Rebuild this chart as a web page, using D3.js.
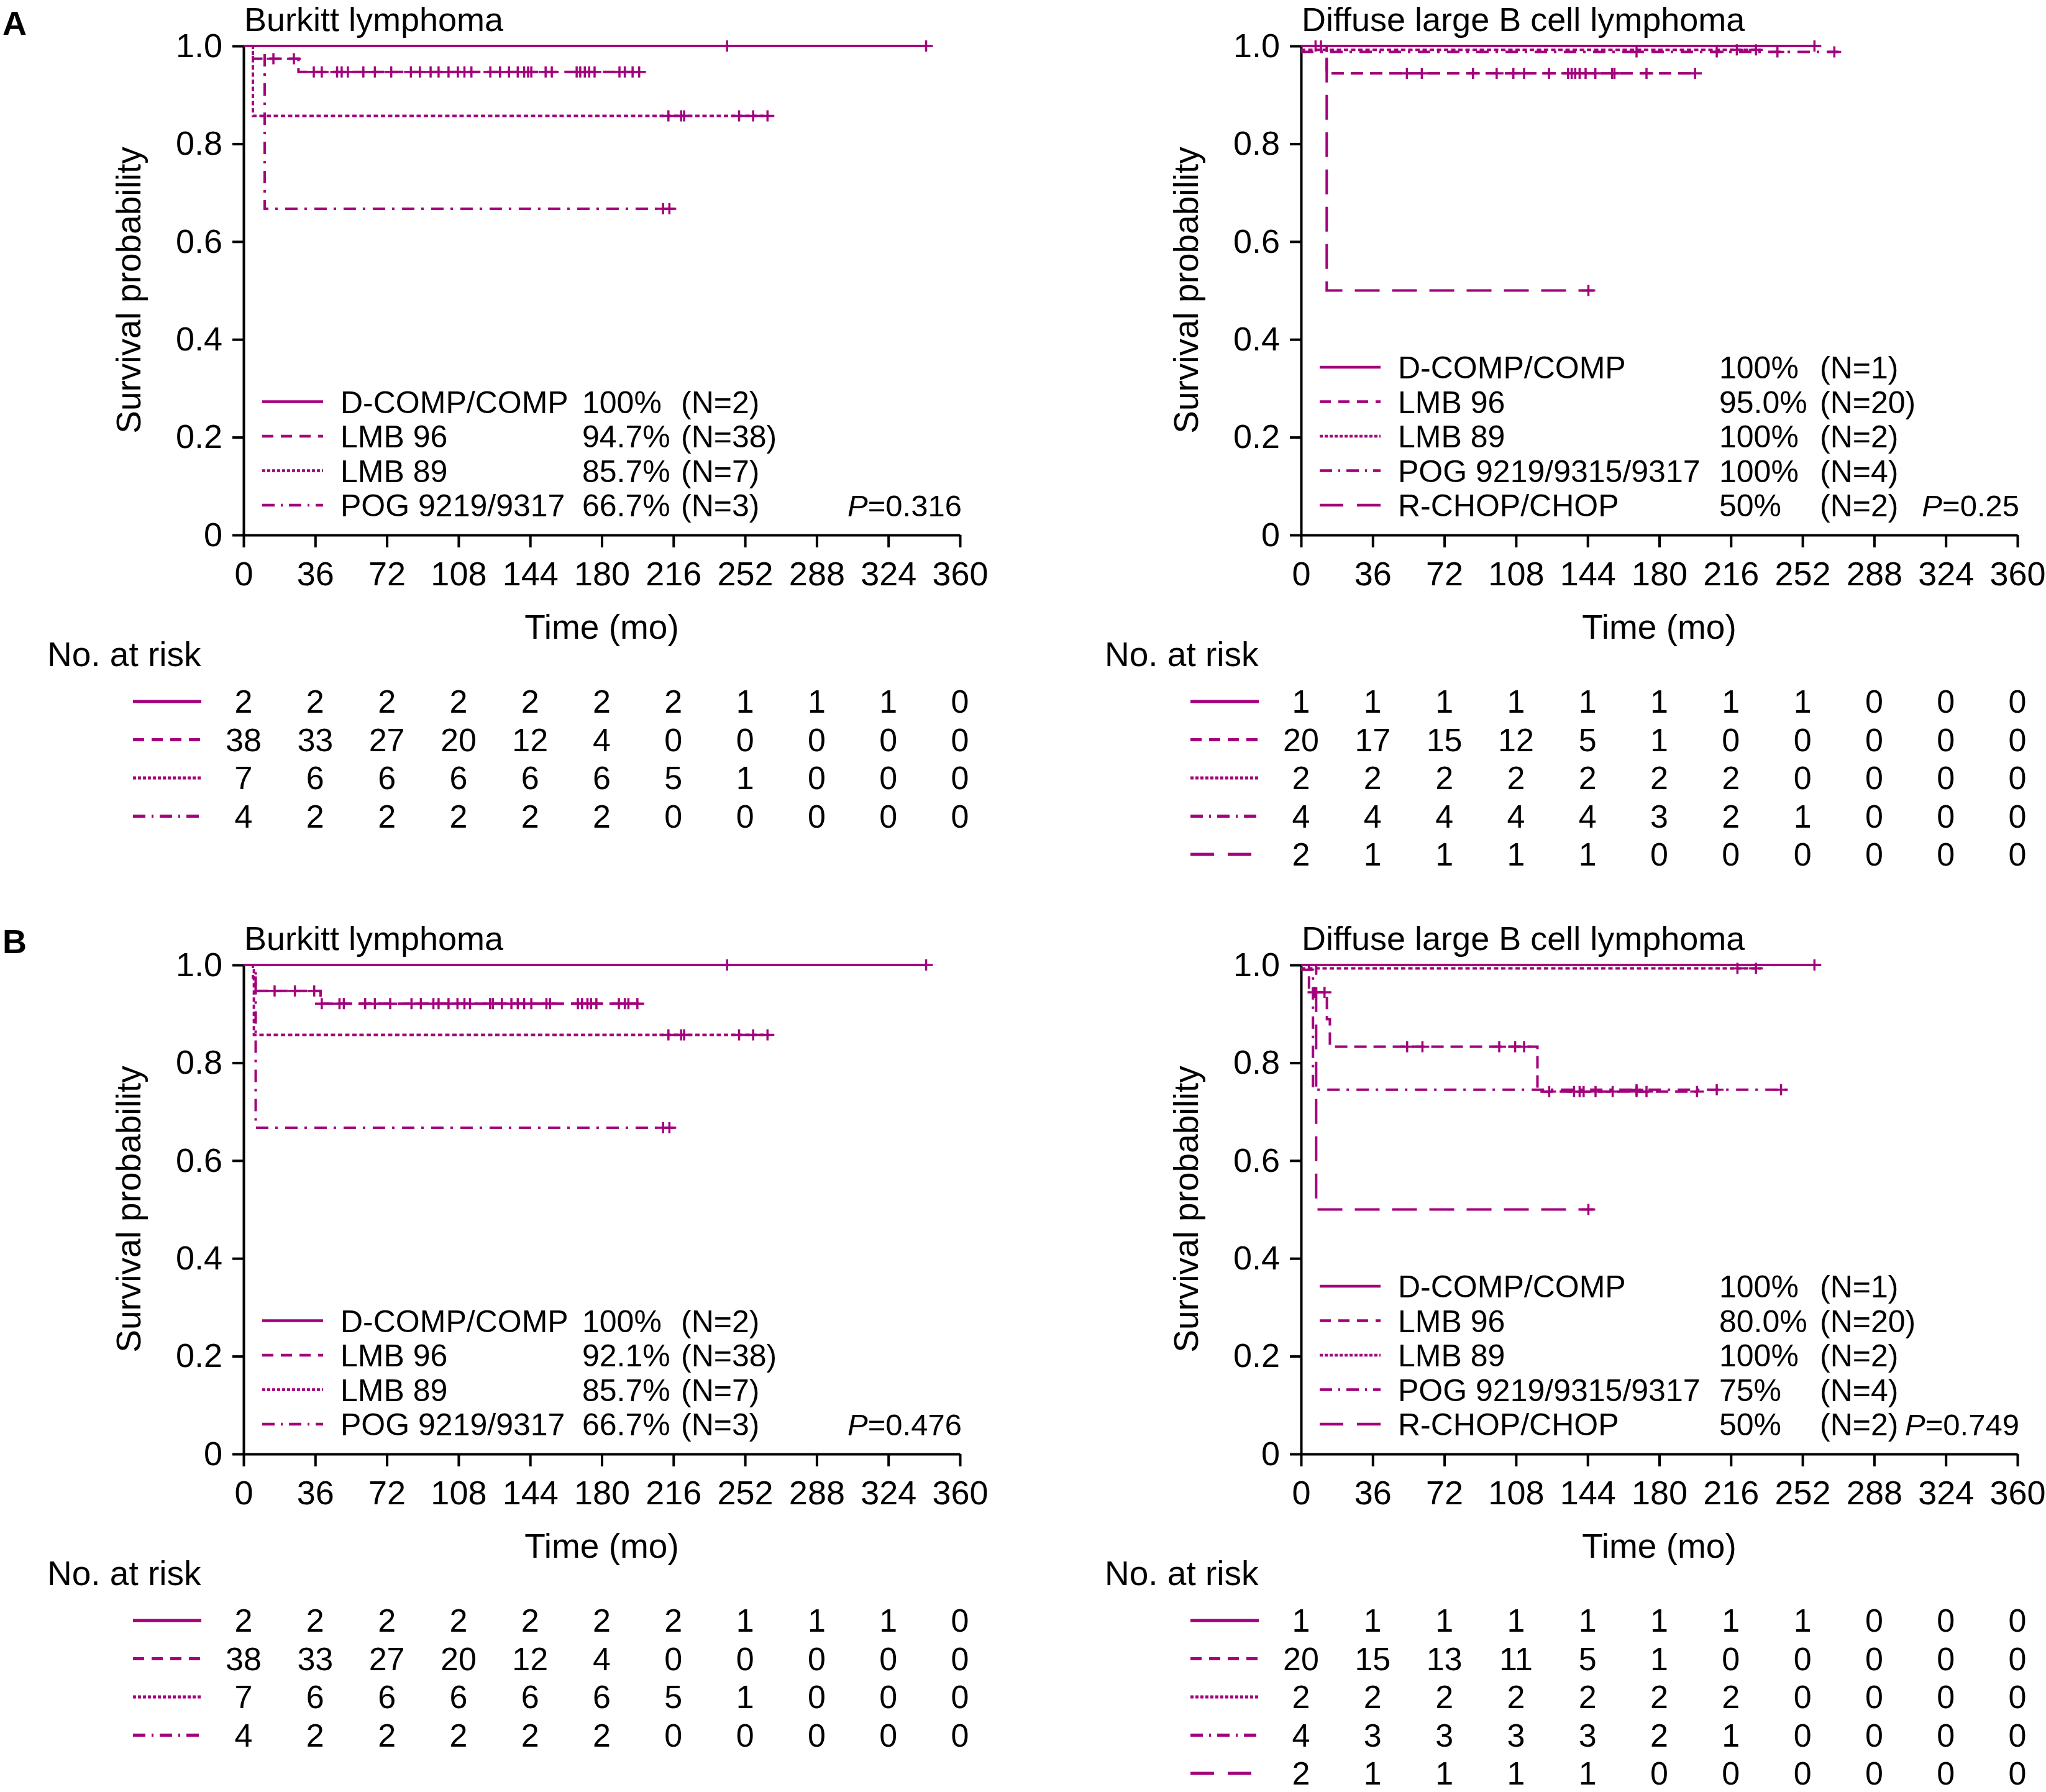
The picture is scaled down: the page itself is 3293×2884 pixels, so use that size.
<!DOCTYPE html>
<html><head><meta charset="utf-8">
<script src="https://cdn.jsdelivr.net/npm/d3@7"></script>
<style>
body{margin:0;background:#fff;}
svg{display:block;}
text{font-family:"Liberation Sans",Arial,Helvetica,sans-serif;fill:#000;}
</style>
</head><body>
<svg id="chart" width="3293" height="2884"></svg>
<script>
// ---------- shared axis data ----------
const timeTicks = [0,36,72,108,144,180,216,252,288,324,360];
const yTicks = [0,0.2,0.4,0.6,0.8,1.0];
const yTickLabels = ["0","0.2","0.4","0.6","0.8","1.0"];
const panelLetters = ["A","B"];
const panelTitles = ["Burkitt lymphoma","Diffuse large B cell lymphoma"];

// ---------- groups ----------
const blGroups = ["D-COMP/COMP","LMB 96","LMB 89","POG 9219/9317"];
const dlGroups = ["D-COMP/COMP","LMB 96","LMB 89","POG 9219/9315/9317","R-CHOP/CHOP"];
const blStyles = ["solid","dash","dot","dashdot"];
const dlStyles = ["solid","dash","dot","dashdot","longdash"];
const blN = ["(N=2)","(N=38)","(N=7)","(N=3)"];
const dlN = ["(N=1)","(N=20)","(N=2)","(N=4)","(N=2)"];

// ---------- Panel A, Burkitt ----------
const aBlPct = ["100%","94.7%","85.7%","66.7%"];
const aBlP = "0.316";
const aBlStart = [1,1,1,1];
const aBlEvents = [[], [[4.7,0.974],[27.6,0.947]], [[4.7,0.857]], [[10.6,0.667]]];
const aBlEnd = [343, 198.8, 264, 216.4];
const aBlCensor = [
  [243,343],
  [15,25.3,35.3,39.3,47,49.3,52.4,60.2,66,74.2,84.1,88.6,94,98,103,107.7,111,114.5,124,128.9,133.4,137.8,141,143,144.6,151.8,154.9,167.4,169.2,171.5,173.7,176.4,188.9,191.6,195.5,198.8],
  [213.5,219.9,221.4,249,256.1,263.3],
  [210.8,214]
];
const aBlRisk = [
  [2,2,2,2,2,2,2,1,1,1,0],
  [38,33,27,20,12,4,0,0,0,0,0],
  [7,6,6,6,6,6,5,1,0,0,0],
  [4,2,2,2,2,2,0,0,0,0,0]
];

// ---------- Panel A, DLBCL ----------
const aDlPct = ["100%","95.0%","100%","100%","50%"];
const aDlP = "0.25";
const aDlStart = [1,1,0.992,0.988,1];
const aDlEvents = [[], [[12.9,0.944]], [], [], [[12.9,0.5]]];
const aDlEnd = [260.5, 198, 231, 270, 147];
const aDlCensor = [
  [258],
  [7.3,10,53.2,60.7,86.4,98.3,106.7,112.1,124.6,134.2,136,137.8,140,143,147.9,156.3,157.5,173.6,198],
  [219,228.6],
  [168.6,208.9,239.4,268],
  [144.4]
];
const aDlRisk = [
  [1,1,1,1,1,1,1,1,0,0,0],
  [20,17,15,12,5,1,0,0,0,0,0],
  [2,2,2,2,2,2,2,0,0,0,0],
  [4,4,4,4,4,3,2,1,0,0,0],
  [2,1,1,1,1,0,0,0,0,0,0]
];

// ---------- Panel B, Burkitt ----------
const bBlPct = ["100%","92.1%","85.7%","66.7%"];
const bBlP = "0.476";
const bBlStart = [1,1,1,1];
const bBlEvents = [[], [[4.7,0.974],[6.1,0.947],[38.7,0.921]], [[5.2,0.857]], [[6.1,0.667]]];
const bBlEnd = [343, 198.8, 264, 216.4];
const bBlCensor = [
  [243,343],
  [15.6,25.8,35.5,39.3,48.2,50.4,61.1,66,73.7,84.4,89.1,95.4,98,103,107.5,111,113.8,123.9,125.3,129.8,134.6,137.8,141,144.6,152.2,154,168,170.1,172.8,174.6,177.3,188.6,191.6,193.4,197.9],
  [213.5,219.9,221.4,249,256.1,263.3],
  [210.8,214]
];
const bBlRisk = [
  [2,2,2,2,2,2,2,1,1,1,0],
  [38,33,27,20,12,4,0,0,0,0,0],
  [7,6,6,6,6,6,5,1,0,0,0],
  [4,2,2,2,2,2,0,0,0,0,0]
];

// ---------- Panel B, DLBCL ----------
const bDlPct = ["100%","80.0%","100%","75%","50%"];
const bDlP = "0.749";
const bDlStart = [1,1,0.993,0.99,1];
const bDlEvents = [[], [[4,0.944],[13,0.889],[14.5,0.833],[118.8,0.741]], [], [[6,0.745]], [[7.6,0.5]]];
const bDlEnd = [260.9, 199, 231.3, 245.7, 147];
const bDlCensor = [
  [258],
  [6.7,11.8,53.3,61,99.6,107.6,112.1,124.7,137.2,140,142,148,156.6,168.6,173.6,199],
  [219.3,228.6],
  [168.6,208.9,241.2],
  [144.4]
];
const bDlRisk = [
  [1,1,1,1,1,1,1,1,0,0,0],
  [20,15,13,11,5,1,0,0,0,0,0],
  [2,2,2,2,2,2,2,0,0,0,0],
  [4,3,3,3,3,2,1,0,0,0,0],
  [2,1,1,1,1,0,0,0,0,0,0]
];

// ---------- styles ----------
const COLOR = "#a3007c";
const curveDash = {solid:null, dash:"20,11", dot:"7,4.5", dashdot:"20,11,4,12", longdash:"40,20"};
const sampleDash = {solid:null, dash:"18,12", dot:"5,3", dashdot:"20,10,3,10", longdash:"38,22"};

const svg = d3.select("#chart");

function stepPoints(start, events, end){
  const pts = [[0,start]];
  let cur = start;
  events.forEach(([t,p]) => { pts.push([t,cur]); pts.push([t,p]); cur = p; });
  pts.push([end,cur]);
  return pts;
}
function levelAt(start, events, t){
  let cur = start;
  events.forEach(([te,p]) => { if (t >= te) cur = p; });
  return cur;
}

function drawPanel(cfg){
  const ax = cfg.ax, oy = cfg.oy;
  const g = svg.append("g");
  const x = d3.scaleLinear().domain([0,360]).range([ax, ax+1153]);
  const y = d3.scaleLinear().domain([0,1]).range([oy+861, oy+74]);

  // title
  g.append("text").attr("x", ax+1).attr("y", oy+50).attr("font-size",54).text(cfg.title);

  // axes
  const yAxis = d3.axisLeft(y).tickValues(yTicks).tickFormat((d,i)=>yTickLabels[i])
    .tickSize(18).tickPadding(16).tickSizeOuter(0);
  const gy = g.append("g").attr("transform",`translate(${ax},0)`).call(yAxis);
  const xAxis = d3.axisBottom(x).tickValues(timeTicks).tickFormat(d=>String(d))
    .tickSize(20).tickPadding(23).tickSizeOuter(0);
  const gx = g.append("g").attr("transform",`translate(0,${oy+861})`).call(xAxis);
  [gx,gy].forEach(a=>{
    a.attr("font-size",54).attr("font-family",'"Liberation Sans",Arial,sans-serif');
    a.selectAll("path.domain").attr("stroke","#000").attr("stroke-width",4);
    a.selectAll(".tick line").attr("stroke","#000").attr("stroke-width",4);
    a.selectAll(".tick text").attr("fill","#000");
  });
  g.append("line").attr("x1",ax-2).attr("x2",ax+2).attr("y1",oy+861).attr("y2",oy+861).attr("stroke","#000").attr("stroke-width",4);

  // y label
  g.append("text").attr("transform",`translate(${ax-166},${oy+467}) rotate(-90)`)
    .attr("text-anchor","middle").attr("font-size",55).text("Survival probability");
  // x label
  g.append("text").attr("x", x(180)).attr("y", oy+1028).attr("text-anchor","middle")
    .attr("font-size",55).text("Time (mo)");

  // curves
  const line = d3.line().x(d=>x(d[0])).y(d=>y(d[1]));
  const n = cfg.groups.length;
  for (let i = n-1; i >= 0; i--){
    const pts = stepPoints(cfg.start[i], cfg.events[i], cfg.end[i]);
    g.append("path").attr("d", line(pts)).attr("fill","none").attr("stroke",COLOR)
      .attr("stroke-width",4).attr("stroke-dasharray",curveDash[cfg.styles[i]]);
    cfg.censor[i].forEach(t=>{
      const cx = x(t), cy = y(levelAt(cfg.start[i], cfg.events[i], t));
      g.append("path").attr("d",`M${cx-11},${cy}H${cx+11}M${cx},${cy-9}V${cy+9}`)
        .attr("stroke",COLOR).attr("stroke-width",3.5).attr("fill","none");
    });
  }

  // legend
  const lastRow = oy+813, rowH = 55.5;
  for (let i = 0; i < n; i++){
    const cy = lastRow - (n-1-i)*rowH;
    g.append("line").attr("x1",ax+30).attr("x2",ax+128).attr("y1",cy).attr("y2",cy)
      .attr("stroke",COLOR).attr("stroke-width",4.5).attr("stroke-dasharray",sampleDash[cfg.styles[i]]);
    const bl = cy + 18;
    g.append("text").attr("x",ax+156).attr("y",bl).attr("font-size",50).text(cfg.groups[i]);
    g.append("text").attr("x",ax+cfg.pctX).attr("y",bl).attr("font-size",50).text(cfg.pct[i]);
    g.append("text").attr("x",ax+cfg.nX).attr("y",bl).attr("font-size",50).text(cfg.nLab[i]);
  }
  const pt = g.append("text").attr("x",ax+1156).attr("y",lastRow+18).attr("text-anchor","end").attr("font-size",49);
  pt.append("tspan").attr("font-style","italic").text("P");
  pt.append("tspan").text("=" + cfg.p);

  // number at risk
  g.append("text").attr("x",ax-316).attr("y",oy+1072).attr("font-size",55).text("No. at risk");
  for (let i = 0; i < n; i++){
    const cy = oy+1129 + i*61.5;
    g.append("line").attr("x1",ax-178).attr("x2",ax-68).attr("y1",cy).attr("y2",cy)
      .attr("stroke",COLOR).attr("stroke-width",5).attr("stroke-dasharray",sampleDash[cfg.styles[i]]);
    cfg.risk[i].forEach((v,j)=>{
      g.append("text").attr("x",x(timeTicks[j])).attr("y",cy+18).attr("text-anchor","middle")
        .attr("font-size",52).text(v);
    });
  }
}

// panel letters
panelLetters.forEach((L,k)=>{
  svg.append("text").attr("x",4).attr("y",56+k*1478).attr("font-size",54).attr("font-weight","bold").text(L);
});

drawPanel({ax:392, oy:0, title:panelTitles[0], groups:blGroups, styles:blStyles, pct:aBlPct, nLab:blN, p:aBlP,
  start:aBlStart, events:aBlEvents, end:aBlEnd, censor:aBlCensor, risk:aBlRisk, pctX:545, nX:704});
drawPanel({ax:2094, oy:0, title:panelTitles[1], groups:dlGroups, styles:dlStyles, pct:aDlPct, nLab:dlN, p:aDlP,
  start:aDlStart, events:aDlEvents, end:aDlEnd, censor:aDlCensor, risk:aDlRisk, pctX:673, nX:835});
drawPanel({ax:392, oy:1479, title:panelTitles[0], groups:blGroups, styles:blStyles, pct:bBlPct, nLab:blN, p:bBlP,
  start:bBlStart, events:bBlEvents, end:bBlEnd, censor:bBlCensor, risk:bBlRisk, pctX:545, nX:704});
drawPanel({ax:2094, oy:1479, title:panelTitles[1], groups:dlGroups, styles:dlStyles, pct:bDlPct, nLab:dlN, p:bDlP,
  start:bDlStart, events:bDlEvents, end:bDlEnd, censor:bDlCensor, risk:bDlRisk, pctX:673, nX:835});
</script>
</body></html>
